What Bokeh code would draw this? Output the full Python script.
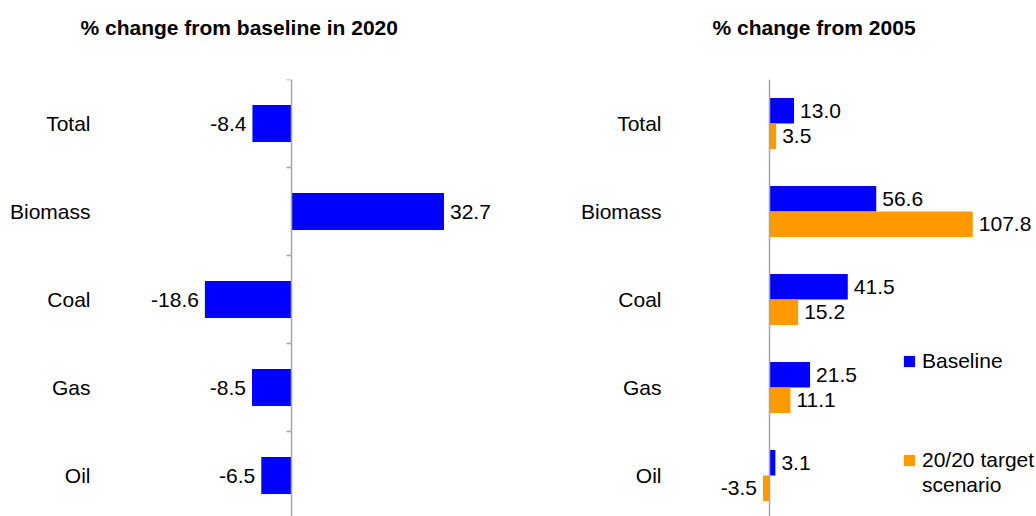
from bokeh.plotting import figure
from bokeh.models import (ColumnDataSource, Range1d, FixedTicker, LinearAxis,
                          Legend, LegendItem)
from bokeh.layouts import row
from bokeh.core.properties import value
from bokeh.embed import file_html
from bokeh.resources import INLINE

# ---------------- data ----------------
categories = ["Total", "Biomass", "Coal", "Gas", "Oil"]
change_vs_baseline_2020 = [-8.4, 32.7, -18.6, -8.5, -6.5]
baseline_vs_2005 = [13.0, 56.6, 41.5, 21.5, 3.1]
target_vs_2005 = [3.5, 107.8, 15.2, 11.1, -3.5]
series_names = ["Baseline", "20/20 target", "scenario"]
titles = ["% change from baseline in 2020", "% change from 2005"]

# ---------------- style ----------------
FONT = "Liberation Sans"
FONT_V = value(FONT)
FS = "21px"
BLUE = "#0000FF"
ORANGE = "#FF9900"
AXIS_GREY = "#A6A6A6"
H = 516
FRAME_TOP = 79
BAND_PX = 88

n = len(categories)
ypos = [n - i - 0.5 for i in range(n)]
bounds = [float(i) for i in range(n + 1)]
y_start = n - (H - FRAME_TOP) / BAND_PX


def make_fig(width, left_border, x_start, x_end, title, title_offset, ticks):
    p = figure(width=width, height=H,
               x_range=Range1d(x_start, x_end), y_range=Range1d(y_start, n),
               output_backend="svg", toolbar_location=None,
               min_border_left=left_border, min_border_right=0,
               min_border_top=FRAME_TOP, min_border_bottom=0)
    p.outline_line_color = None
    p.grid.visible = False
    p.xaxis.visible = False
    p.background_fill_color = "white"
    p.border_fill_color = "white"

    # blank second line lifts the title towards the top of the page
    p.title.text = title + "\n "
    p.title.text_font = FONT
    p.title.text_font_size = FS
    p.title.text_font_style = "bold"
    p.title.text_color = "#000000"
    p.title.text_line_height = 1.2
    p.title.align = "left"
    p.title.offset = title_offset
    p.title.standoff = 25

    ya = p.yaxis[0]
    ya.ticker = FixedTicker(ticks=ypos)
    ya.major_label_overrides = {y: c for y, c in zip(ypos, categories)}
    ya.axis_line_color = None
    ya.major_tick_line_color = None
    ya.minor_tick_line_color = None
    ya.major_tick_out = 0
    ya.major_tick_in = 0
    ya.major_label_standoff = 10
    ya.major_label_text_font = FONT
    ya.major_label_text_font_size = FS
    ya.major_label_text_color = "#000000"

    zero_axis = LinearAxis(fixed_location=0,
                           ticker=FixedTicker(ticks=bounds if ticks else []),
                           axis_line_color=AXIS_GREY, axis_line_width=1.5,
                           major_tick_line_color=AXIS_GREY, major_tick_line_width=1.5,
                           major_tick_out=5 if ticks else 0, major_tick_in=0,
                           minor_tick_line_color=None,
                           major_label_text_font_size="0px",
                           major_label_text_alpha=0)
    p.add_layout(zero_axis, "left")
    return p


def label_source(values, yvals):
    return ColumnDataSource(dict(
        x=values, y=yvals,
        text=[f"{v:.1f}" for v in values],
        align=["left" if v >= 0 else "right" for v in values],
        xoff=[6 if v >= 0 else -6 for v in values],
    ))


def add_labels(p, src):
    p.text(x="x", y="y", text="text", source=src, text_align="align",
           x_offset="xoff", text_baseline="middle", text_font=FONT_V,
           text_font_size=FS, text_color="#000000")


def make_legend(items, loc):
    return Legend(items=items, location=loc, orientation="vertical",
                  background_fill_alpha=0, border_line_color=None,
                  padding=0, margin=0, spacing=0,
                  glyph_width=14, glyph_height=14, label_standoff=6,
                  label_height=25,
                  label_text_font=FONT, label_text_font_size=FS,
                  label_text_color="#000000")


# ---------------- left panel ----------------
p1 = make_fig(560, 100, -41.0, 57.7, titles[0], -20, True)
src1 = ColumnDataSource(dict(y=ypos, v=change_vs_baseline_2020))
p1.hbar(y="y", left=0, right="v", height=0.42, source=src1,
        fill_color=BLUE, line_color=None)
add_labels(p1, label_source(change_vs_baseline_2020, ypos))

# ---------------- right panel ----------------
p2 = make_fig(476, 111, -52.0, 141.6, titles[1], 41, False)
bh = 0.29
y_blue = [y + bh / 2 for y in ypos]
y_orange = [y - bh / 2 for y in ypos]
src_b = ColumnDataSource(dict(y=y_blue, v=baseline_vs_2005))
src_o = ColumnDataSource(dict(y=y_orange, v=target_vs_2005))
r_b = p2.hbar(y="y", left=0, right="v", height=bh, source=src_b,
              fill_color=BLUE, line_color=None)
r_o = p2.hbar(y="y", left=0, right="v", height=bh, source=src_o,
              fill_color=ORANGE, line_color=None)
# empty, invisible renderer used only for the second line of the legend label
r_blank = p2.hbar(y=[], left=0, right=[], height=bh,
                  fill_alpha=0, line_alpha=0)
add_labels(p2, label_source(baseline_vs_2005, y_blue))
add_labels(p2, label_source(target_vs_2005, y_orange))

legend_a = make_legend([LegendItem(label=series_names[0], renderers=[r_b])],
                       (231, 143))
legend_b = make_legend([LegendItem(label=series_names[1], renderers=[r_o]),
                        LegendItem(label=series_names[2], renderers=[r_blank])],
                       (231, 19))
p2.add_layout(legend_a)
p2.add_layout(legend_b)

layout = row(p1, p2)
open("out.html", "w").write(file_html(layout, INLINE))
